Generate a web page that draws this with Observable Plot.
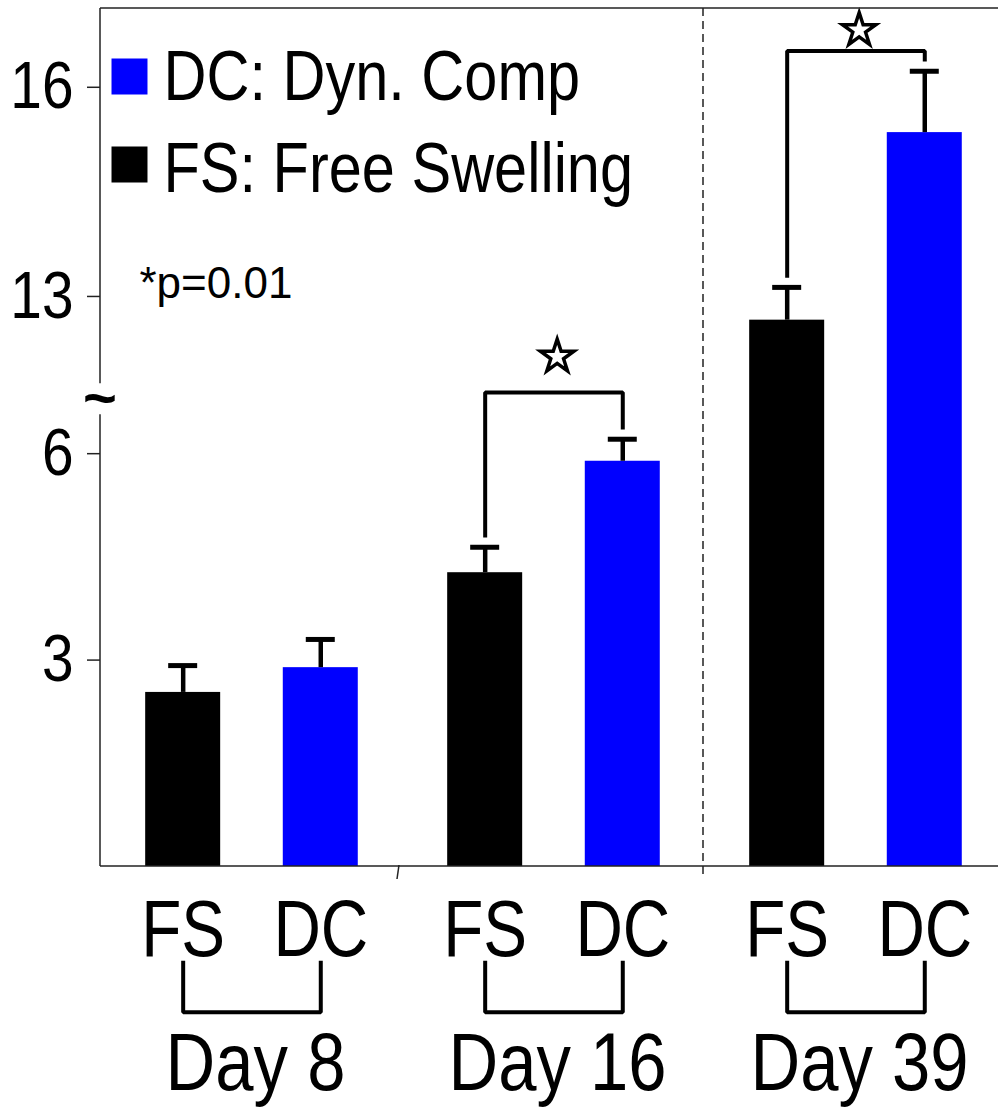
<!DOCTYPE html>
<html><head><meta charset="utf-8">
<script src="https://cdn.jsdelivr.net/npm/d3@7"></script>
<script src="https://cdn.jsdelivr.net/npm/@observablehq/plot@0.6"></script>
<style>html,body{margin:0;padding:0;background:#fff;overflow:hidden} svg{display:block}</style>
</head><body><div id="chart"></div>
<script>
// ---- data ----
const days = [8, 16, 39];
const groups = ["FS", "DC"];
const fsMean = [2.53, 4.27, 12.66];
const fsErr = [0.39, 0.37, 0.47];
const dcMean = [2.89, 5.89, 15.35];
const dcErr = [0.41, 0.32, 0.88];
const yTicks = [3, 6, 13, 16];
const legendLabels = ["DC: Dyn. Comp", "FS: Free Swelling"];
const legendGroups = ["DC", "FS"];
const pLabel = "*p=0.01";
const sigDays = [16, 39];

const FONT = "'Liberation Sans', Arial, sans-serif";
// the reference uses a narrow (Arial Narrow-like) face: horizontal squeeze per font size
const SQUEEZE = {44: 1.0, 66: 0.86, 70: 0.85, 80: 0.82, 81: 0.85};

const rows = days.flatMap((day, i) => [
  {day, group: "FS", mean: fsMean[i], err: fsErr[i]},
  {day, group: "DC", mean: dcMean[i], err: dcErr[i]}
]);
rows.forEach(d => d.top = d.mean + d.err);

// significance brackets (annotation spacing in value units)
const sigPad = [0.68, 0.29], starPad = [0.52, 0.30], gap = 0.14;
const brackets = [], stars = [];
sigDays.forEach((day, k) => {
  const fs = rows.find(r => r.day === day && r.group === "FS");
  const dc = rows.find(r => r.day === day && r.group === "DC");
  const level = Math.max(fs.top, dc.top) + sigPad[k];
  brackets.push({day, group: "FS", v: fs.top + gap}, {day, group: "FS", v: level},
                {day, group: "DC", v: level}, {day, group: "DC", v: dc.top + gap});
  stars.push({day, group: "FS", v: level + starPad[k]});
});
// group brackets under the axis (below zero on the extended scale)
const under = {top: -1.4, bottom: -2.12};
const dayBrackets = days.flatMap(day => [
  {day, group: "FS", v: under.top}, {day, group: "FS", v: under.bottom},
  {day, group: "DC", v: under.bottom}, {day, group: "DC", v: under.top}
]);

const colors = ["#000000", "#0000ff"];
const first = [{day: days[0]}];

const legendMarks = legendLabels.flatMap((label, i) => [
  Plot.dot(first, {fx: "day", frameAnchor: "top-left", dx: 29, dy: 68 + 88 * i, symbol: "square", r: 20.3,
    fill: colors[groups.indexOf(legendGroups[i])]}),
  Plot.text(first, {fx: "day", frameAnchor: "top-left", dx: 63, dy: 69 + 92 * i, text: () => label,
    textAnchor: "start", lineAnchor: "middle", fontSize: 70, fill: "black"})
]);

const plot = Plot.plot({
  width: 998, height: 1109,
  marginLeft: 100, marginRight: 0, marginTop: 8, marginBottom: 243,
  style: {fontFamily: FONT, background: "white", color: "black"},
  fx: {domain: days, paddingInner: 0.0265, paddingOuter: 0, round: false},
  x: {domain: groups, paddingInner: 0.455, paddingOuter: 0.2958, align: 0.555, round: false},
  y: {type: "linear", domain: [-3.52, 0, 7.674, 12.397, 17.13], range: [1108, 866, 338, 338, 8]},
  color: {domain: groups, range: colors},
  marks: [
    Plot.barY(rows, {fx: "day", x: "group", y1: 0, y2: "mean", fill: "group"}),
    Plot.ruleX(rows, {fx: "day", x: "group", y1: "mean", y2: "top", stroke: "black", strokeWidth: 4.5}),
    Plot.tickY(rows, {fx: "day", x: "group", y: "top", stroke: "black", strokeWidth: 5, insetLeft: 23, insetRight: 23}),
    Plot.line(brackets, {fx: "day", x: "group", y: "v", stroke: "black", strokeWidth: 4, strokeLinejoin: "miter", strokeLinecap: "butt"}),
    Plot.dot(stars, {fx: "day", x: "group", dx: 72, y: "v", symbol: "star", r: 10.5, fill: "white", stroke: "black", strokeWidth: 3.5}),
    Plot.line(dayBrackets, {fx: "day", x: "group", y: "v", stroke: "black", strokeWidth: 4, strokeLinejoin: "miter", strokeLinecap: "square"}),
    Plot.axisY({ticks: yTicks, tickSize: 13, tickPadding: 14, fontSize: 66, label: null, stroke: "#222", strokeWidth: 1.5}),
    Plot.axisX({tickSize: 0, tickPadding: 33, fontSize: 80, label: null}),
    Plot.axisFx({anchor: "bottom", tickSize: 0, tickPadding: 166, dx: 8, fontSize: 81, label: null, tickFormat: d => `Day ${d}`}),
    ...legendMarks,
    Plot.text(first, {fx: "day", frameAnchor: "top-left", dx: 39, dy: 275, text: () => pLabel,
      textAnchor: "start", lineAnchor: "middle", fontSize: 44, fill: "black"})
  ]
});
document.getElementById("chart").appendChild(plot);

// narrow the glyphs horizontally (no narrow face installed)
d3.select(plot).selectAll("text").each(function () {
  const fs = Math.round(parseFloat(getComputedStyle(this).fontSize));
  const k = SQUEEZE[fs] ?? 0.84;
  const w = this.getComputedTextLength();
  if (w > 0 && k !== 1) { this.setAttribute("textLength", w * k); this.setAttribute("lengthAdjust", "spacingAndGlyphs"); }
});

// ---- frame lines, axis break and group separators from the plot's own scales ----
const svg = d3.select(plot);
const fxS = plot.scale("fx"), yS = plot.scale("y");
const bw = fxS.bandwidth;
const left = fxS.apply(days[0]), right = fxS.apply(days[days.length - 1]) + bw;
const yTop = yS.apply(17.13), yBase = yS.apply(0), yBreak = yS.apply(6.8);
const g = svg.append("g").attr("stroke", "#222").attr("stroke-width", 1.5).attr("fill", "none");
g.append("line").attr("x1", left).attr("x2", right).attr("y1", yTop).attr("y2", yTop);
g.append("line").attr("x1", left).attr("x2", right).attr("y1", yBase).attr("y2", yBase);
g.append("line").attr("x1", left).attr("x2", left).attr("y1", yTop).attr("y2", yBreak - 15);
g.append("line").attr("x1", left).attr("x2", left).attr("y1", yBreak + 16).attr("y2", yBase);
const seps = days.slice(1).map((d, i) => (fxS.apply(days[i]) + bw + fxS.apply(d)) / 2);
g.append("line").attr("x1", seps[0] + 1).attr("x2", seps[0] - 1).attr("y1", yBase - 1).attr("y2", yBase + 13);
g.append("line").attr("x1", seps[1] + 3).attr("x2", seps[1] + 3).attr("y1", yTop).attr("y2", yBase + 13)
  .attr("stroke-dasharray", "8,5");
svg.append("text").attr("x", left).attr("y", yBreak).attr("dy", "0.35em").attr("text-anchor", "middle")
  .attr("font-family", "'Liberation Sans', Arial, sans-serif").attr("font-weight", "bold")
  .attr("font-size", 58).attr("fill", "black").text("~");
</script></body></html>
